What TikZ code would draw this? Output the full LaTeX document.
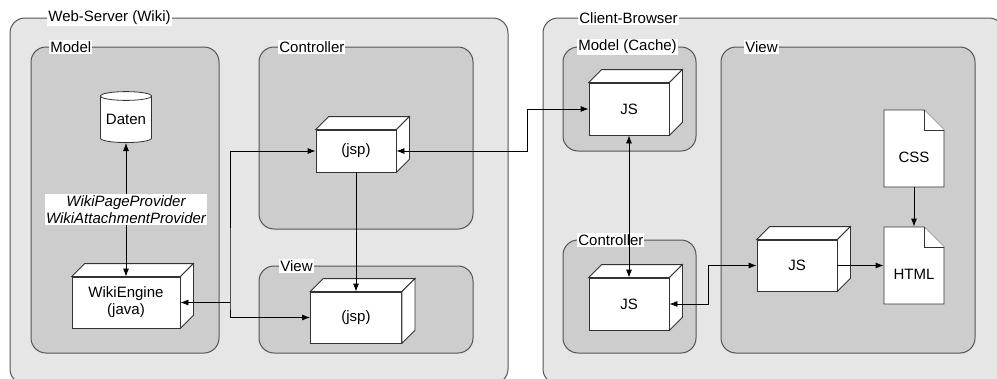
\documentclass[tikz,border=0pt]{standalone}
\usepackage{fontspec}
\setmainfont{Liberation Sans}
\usepackage{tikz}
\usetikzlibrary{shapes.geometric,arrows.meta}
\definecolor{outerfill}{HTML}{E6E6E6}
\definecolor{innerfill}{HTML}{CDCDCD}
\definecolor{framec}{HTML}{555555}
\definecolor{boxc}{HTML}{333333}
\tikzstyle{outer} = [draw=framec, fill=outerfill, line width=1pt, rounded corners=15pt]
\tikzstyle{inner} = [draw=framec, fill=innerfill, line width=1pt, rounded corners=15pt]
\tikzstyle{frametitle} = [anchor=west, fill=white, inner sep=1pt]
\tikzstyle{cube} = [draw=boxc, fill=white, inner sep=0pt, align=center, minimum width=80pt, minimum height=52pt]
\tikzstyle{cubeface} = [draw=boxc, fill=white]
\tikzstyle{store} = [draw=boxc, fill=white, cylinder, shape border rotate=90, aspect=0.22, minimum width=51pt, minimum height=51pt, inner sep=0pt]
\tikzstyle{doc} = [inner sep=0pt, minimum width=60pt, minimum height=77pt, text height=28pt, text depth=0pt]
\tikzstyle{provider} = [fill=white, align=center, inner sep=1.5pt, font=\fontsize{15}{17}\selectfont\itshape]
\newcommand\cubeback[1]{%
  \filldraw[cubeface] (#1.north west) -- ++(13,-13) -- ([shift={(13,-13)}]#1.north east) -- (#1.north east) -- cycle;
  \filldraw[cubeface] (#1.north east) -- ([shift={(13,-13)}]#1.north east) -- ([shift={(13,-13)}]#1.south east) -- (#1.south east) -- cycle;}
\newcommand\docnode[3]{%
  \filldraw[cubeface] (#2) ++(-30,-38.5) -- ++(40,0) -- ++(20,20) -- ++(0,57) -- ++(-60,0) -- cycle;
  \draw[cubeface] (#2) ++(10,-38.5) -- ++(0,20) -- ++(20,0);
  \node[doc] (#1) at (#2) {#3};}

\begin{document}
\begin{tikzpicture}[x=1pt, y=-1pt, line width=0.8pt, >={Latex[length=8pt,width=6pt]}, font=\fontsize{15}{17}\selectfont]
        \useasboundingbox (0,0) rectangle (997,378);
        \clip (0,0) rectangle (997,378);
        \draw[outer] (10,18) rectangle (508,384);
        \draw[inner] (31,47) rectangle (219,353);
        \draw[inner] (259,47) rectangle (473,229);
        \draw[inner] (259,266) rectangle (473,353);
        \draw[outer] (543,18) rectangle (1004,384);
        \draw[inner] (563,47) rectangle (696,151);
        \draw[inner] (721,47) rectangle (975,353);
        \draw[inner] (563,240) rectangle (696,353);
        \node[frametitle] (tserver) at (47,18) {Web-Server (Wiki)};
        \node[frametitle] (tsmodel) at (49,47) {Model};
        \node[frametitle] (tsctrl) at (278,47) {Controller};
        \node[frametitle] (tsview) at (279,266) {View};
        \node[frametitle] (tclient) at (578,18) {Client-Browser};
        \node[frametitle] (tcmodel) at (577,47) {Model (Cache)};
        \node[frametitle] (tcview) at (744,47) {View};
        \node[frametitle] (tcctrl) at (577,240) {Controller};

        \node[store] (daten) at (126,119.5) {Daten};
        \node[cube, minimum width=108pt, minimum height=51pt] (wiki) at (126,302.5) {WikiEngine\\(java)};
        \cubeback{wiki}
        \node[cube, minimum height=42pt] (ctrljsp) at (356,151) {(jsp)};
        \cubeback{ctrljsp}
        \node[cube, minimum width=91pt, minimum height=51pt] (viewjsp) at (356,317.5) {(jsp)};
        \cubeback{viewjsp}
        \node[cube] (jsmodel) at (629,109) {JS};
        \cubeback{jsmodel}
        \node[cube] (jsctrl) at (629,304) {JS};
        \cubeback{jsctrl}
        \node[cube, minimum height=51pt] (jsview) at (797,265.5) {JS};
        \cubeback{jsview}
        \docnode{css}{914,148.5}{CSS}
        \docnode{html}{914,265.5}{HTML}
        \coordinate (split) at (230,302.5);

        \draw[<->] (daten.south) -- node[provider] (prov) {WikiPageProvider\\WikiAttachmentProvider} (wiki.north);
        \draw[<->] (ctrljsp.west) -| (split) |- (viewjsp.west);
        \draw[->] (split) -- (wiki.east);
        \draw[->] (ctrljsp.south) -- (viewjsp.north);
        \draw[<->] (ctrljsp.east) -- ++(131,0) |- (jsmodel.west);
        \draw[<->] (jsmodel.south) -- (jsctrl.north);
        \draw[<->] (jsctrl.east) -- ++(39,0) |- (jsview.west);
        \draw[->] (jsview.east) -- (html.west);
        \draw[->] (css.south) -- (html.north);
      \end{tikzpicture}
\end{document}
